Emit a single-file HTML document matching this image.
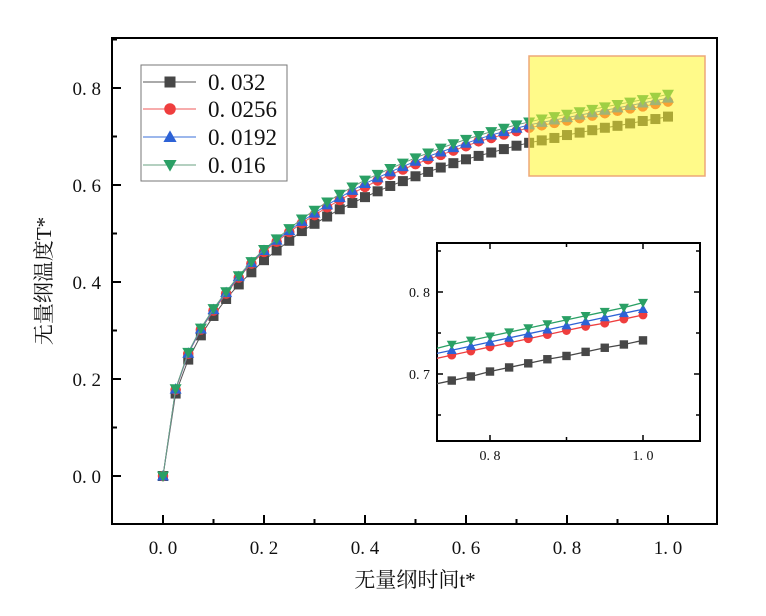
<!DOCTYPE html>
<html><head><meta charset="utf-8"><style>
html,body{margin:0;padding:0;background:#fff;width:766px;height:616px;overflow:hidden;position:relative;}
svg{display:block;position:absolute;left:0;top:0;font-family:"Liberation Serif","Noto Serif CJK SC",serif;}
</style></head><body>
<svg id="chart" width="766" height="616" viewBox="0 0 766 616" overflow="hidden" xmlns="http://www.w3.org/2000/svg"></svg>
<script>
const tValues = [0,0.025,0.05,0.075,0.1,0.125,0.15,0.175,0.2,0.225,0.25,0.275,0.3,0.325,0.35,0.375,0.4,0.425,0.45,0.475,0.5,0.525,0.55,0.575,0.6,0.625,0.65,0.675,0.7,0.725,0.75,0.775,0.8,0.825,0.85,0.875,0.9,0.925,0.95,0.975,1.0];
const series032 = [0,0.170,0.240,0.290,0.330,0.365,0.395,0.420,0.445,0.465,0.485,0.505,0.520,0.535,0.550,0.563,0.575,0.587,0.598,0.608,0.618,0.627,0.636,0.645,0.653,0.660,0.667,0.674,0.681,0.687,0.692,0.697,0.703,0.708,0.713,0.718,0.722,0.727,0.732,0.736,0.741];
const series0256 = [0,0.178,0.252,0.302,0.341,0.376,0.409,0.438,0.462,0.483,0.503,0.521,0.538,0.554,0.569,0.583,0.596,0.609,0.621,0.632,0.643,0.653,0.662,0.671,0.680,0.690,0.697,0.704,0.711,0.718,0.723,0.728,0.733,0.738,0.743,0.748,0.753,0.758,0.762,0.767,0.772];
const series0192 = [0,0.179,0.253,0.303,0.343,0.378,0.411,0.440,0.465,0.486,0.506,0.525,0.542,0.559,0.574,0.589,0.603,0.615,0.627,0.638,0.649,0.659,0.668,0.677,0.686,0.695,0.703,0.710,0.717,0.724,0.729,0.734,0.739,0.744,0.749,0.754,0.759,0.764,0.769,0.774,0.779];
const series016 = [0,0.180,0.255,0.305,0.345,0.380,0.413,0.442,0.467,0.489,0.510,0.530,0.548,0.565,0.581,0.596,0.610,0.622,0.634,0.645,0.656,0.666,0.676,0.685,0.694,0.702,0.710,0.717,0.724,0.730,0.736,0.741,0.746,0.751,0.756,0.761,0.766,0.771,0.776,0.781,0.787];
const seriesNames = ["0. 032","0. 0256","0. 0192","0. 016"];
const xTicks = [0,0.2,0.4,0.6,0.8,1.0];
const xTickLabels = ["0. 0","0. 2","0. 4","0. 6","0. 8","1. 0"];
const yTicks = [0,0.2,0.4,0.6,0.8];
const yTickLabels = ["0. 0","0. 2","0. 4","0. 6","0. 8"];
const insetXTicks = [0.8,1.0];
const insetXTickLabels = ["0. 8","1. 0"];
const insetYTicks = [0.7,0.8];
const insetYTickLabels = ["0. 7","0. 8"];

const NS="http://www.w3.org/2000/svg";
const svg=document.getElementById('chart');
function mk(tag,attrs,parent){const e=document.createElementNS(NS,tag);for(const k in attrs)e.setAttribute(k,attrs[k]);(parent||svg).appendChild(e);return e;}
const colors=["#474747","#ef3e3e","#2d62d6","#2aa065"];
const lineColors=["#555555","#ef5a5a","#3a6fd8","#6aa080"];
const allSeries=[series032,series0256,series0192,series016];
const shapes=["square","circle","up","down"];

const X0=112,X1=717,Y0=38,Y1=524;
const xs=t=>163+t*505;
const ys=v=>476-v*485;
const IX0=437,IX1=700,IY0=243,IY1=441;
const ixs=t=>490+(t-0.8)*765;
const iys=v=>292-(v-0.8)*820;

function marker(g,shape,x,y,s,c){
  let e;
  if(shape==="square") e=mk('rect',{x:x-s,y:y-s,width:2*s,height:2*s,fill:c},g);
  else if(shape==="circle") e=mk('circle',{cx:x,cy:y,r:s*1.05,fill:c},g);
  else if(shape==="up") e=mk('polygon',{points:`${x},${y-s*1.2} ${x-s*1.2},${y+s*0.9} ${x+s*1.2},${y+s*0.9}`,fill:c},g);
  else e=mk('polygon',{points:`${x},${y+s*1.2} ${x-s*1.2},${y-s*0.9} ${x+s*1.2},${y-s*0.9}`,fill:c},g);
  return e;
}

const frame=mk('rect',{x:X0,y:Y0,width:X1-X0,height:Y1-Y0,fill:'none',stroke:'#000','stroke-width':2});



xTicks.forEach((t,i)=>{
  const x=xs(t);
  mk('line',{x1:x,y1:Y1,x2:x,y2:Y1-9,stroke:'#000','stroke-width':2});
  const lbl=mk('text',{x:x,y:554,'text-anchor':'middle','font-size':19,fill:'#111'});
  lbl.textContent=xTickLabels[i];
  
  
  if(i<xTicks.length-1){const xm=xs(t+0.1);mk('line',{x1:xm,y1:Y1,x2:xm,y2:Y1-5,stroke:'#000','stroke-width':2});}
});
yTicks.forEach((v,i)=>{
  const y=ys(v);
  mk('line',{x1:X0,y1:y,x2:X0+9,y2:y,stroke:'#000','stroke-width':2});
  const lbl=mk('text',{x:101,y:y+7,'text-anchor':'end','font-size':19,fill:'#111'});
  lbl.textContent=yTickLabels[i];
  
  
  const ym=ys(v+0.1);mk('line',{x1:X0,y1:ym,x2:X0+5,y2:ym,stroke:'#000','stroke-width':2});
});

const xt=mk('text',{x:415,y:587,'text-anchor':'middle','font-size':21,fill:'#111'});
xt.textContent='无量纲时间t*';


const yt=mk('text',{x:0,y:0,'text-anchor':'middle','font-size':21,fill:'#111',transform:'translate(51,281) rotate(-90)'});
yt.textContent='无量纲温度T*';



allSeries.forEach((s,k)=>{
  const g=mk('g',{});
  
  
  mk('polyline',{points:s.map((v,i)=>xs(tValues[i])+','+ys(v)).join(' '),fill:'none',stroke:lineColors[k],'stroke-width':1},g);
  s.forEach((v,i)=>{const m=marker(g,shapes[k],xs(tValues[i]),ys(v),5,colors[k]);
    
    });
});

const hl=mk('rect',{x:529,y:56,width:176,height:120,fill:'rgba(255,245,40,0.55)',stroke:'#eea878','stroke-width':1.5});



const lg=mk('g',{});


mk('rect',{x:141,y:65,width:146,height:116,fill:'#fff',stroke:'#777','stroke-width':1},lg);
const legY=[82,109,137,165];
seriesNames.forEach((n,k)=>{
  const e=mk('g',{},lg);
  
  
  mk('line',{x1:143,y1:legY[k],x2:196,y2:legY[k],stroke:lineColors[k],'stroke-width':1},e);
  marker(e,shapes[k],170,legY[k],5.5,colors[k]);
  const t=mk('text',{x:208,y:legY[k]+8,'font-size':23,fill:'#111'},e);
  t.textContent=n;
});

const ig=mk('g',{});


mk('rect',{x:IX0,y:IY0,width:IX1-IX0,height:IY1-IY0,fill:'#fff',stroke:'#000','stroke-width':2},ig);
const cp=mk('clipPath',{id:'ic'},ig);mk('rect',{x:IX0,y:IY0,width:IX1-IX0,height:IY1-IY0},cp);
insetXTicks.forEach((t,i)=>{
  const x=ixs(t);
  mk('line',{x1:x,y1:IY1,x2:x,y2:IY1-6,stroke:'#000','stroke-width':1.5},ig);
  mk('line',{x1:x,y1:IY0,x2:x,y2:IY0+6,stroke:'#000','stroke-width':1.5},ig);
  const l=mk('text',{x:x,y:460,'text-anchor':'middle','font-size':14,fill:'#111'},ig);
  l.textContent=insetXTickLabels[i];
});
{const m=ixs(0.9);mk('line',{x1:m,y1:IY1,x2:m,y2:IY1-4,stroke:'#000','stroke-width':1.5},ig);mk('line',{x1:m,y1:IY0,x2:m,y2:IY0+4,stroke:'#000','stroke-width':1.5},ig);}
insetYTicks.forEach((v,i)=>{
  const y=iys(v);
  mk('line',{x1:IX0,y1:y,x2:IX0+6,y2:y,stroke:'#000','stroke-width':1.5},ig);
  mk('line',{x1:IX1,y1:y,x2:IX1-6,y2:y,stroke:'#000','stroke-width':1.5},ig);
  const l=mk('text',{x:430,y:y+5,'text-anchor':'end','font-size':14,fill:'#111'},ig);
  l.textContent=insetYTickLabels[i];
});
[0.65,0.75,0.85].forEach(v=>{const m=iys(v);mk('line',{x1:IX0,y1:m,x2:IX0+4,y2:m,stroke:'#000','stroke-width':1.5},ig);mk('line',{x1:IX1,y1:m,x2:IX1-4,y2:m,stroke:'#000','stroke-width':1.5},ig);});
const ic=mk('g',{'clip-path':'url(#ic)'},ig);
allSeries.forEach((s,k)=>{
  const g=mk('g',{},ic);
  
  
  mk('polyline',{points:s.map((v,i)=>ixs(tValues[i])+','+iys(v)).join(' '),fill:'none',stroke:colors[k],'stroke-width':1.3},g);
  s.forEach((v,i)=>{if(tValues[i]>=0.7)marker(g,shapes[k],ixs(tValues[i]),iys(v),4.2,colors[k]);});
});
</script>
</body></html>
